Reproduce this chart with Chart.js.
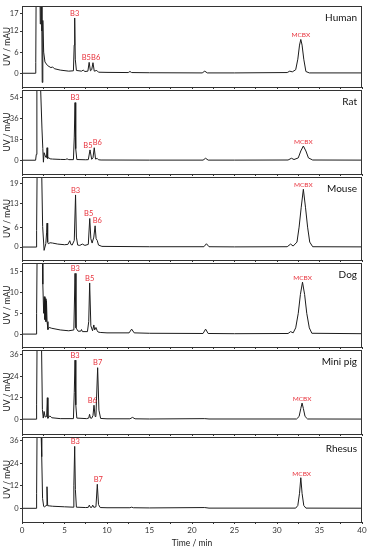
<!DOCTYPE html>
<html>
<head>
<meta charset="utf-8">
<script src="https://cdn.jsdelivr.net/npm/chart.js@4.4.0/dist/chart.umd.min.js"></script>
<style>
    html, body { margin: 0; padding: 0; background: #fff; }
    #wrap { position: relative; width: 369px; height: 550px; overflow: hidden; }
    #wrap canvas { position: absolute; left: 0; }
</style>
</head>
<body>
<div id="wrap"></div>
<script>
// chromatogram traces, [time (min), UV (mAU)]
const species = ['Human', 'Rat', 'Mouse', 'Dog', 'Mini pig', 'Rhesus'];

const human = [[0,0],[1.55,0],[1.62,3],[1.7,40],[2.05,40],[2.15,14],[2.22,40],[2.3,40],[2.34,12],[2.38,-2.6],[2.45,15],[2.55,6],[2.7,3.2],[3.0,2.2],[3.4,1.6],[3.6,1.8],[3.8,1.3],[4.5,0.9],[5.5,0.6],[6.05,0.7],[6.14,8],[6.2,15.7],[6.27,4],[6.4,0.8],[7.0,0.6],[7.2,0.9],[7.4,0.5],[7.75,0.6],[7.9,3.1],[8.05,0.7],[8.2,1.0],[8.35,3.0],[8.5,0.6],[8.8,0.8],[9.0,0.3],[10,0.25],[12.5,0.2],[12.7,0.5],[12.9,0.2],[15,0.15],[21.2,0.1],[21.5,0.6],[21.8,0.1],[25,0.1],[31.2,0.2],[31.5,0.6],[31.8,0.4],[32.2,1.0],[32.45,4],[32.65,8],[32.8,9.6],[32.95,8],[33.15,4],[33.4,0.5],[33.8,0.1],[40,0.1]];
const rat = [[0,0],[1.6,0],[1.68,5],[1.75,80],[2.15,80],[2.2,60],[2.35,27],[2.45,10],[2.52,-1.7],[2.6,6.5],[2.7,6.5],[2.8,2.5],[2.88,2.3],[2.95,10.8],[3.02,1.5],[3.15,2.2],[3.3,1.2],[3.6,1.0],[4.5,0.7],[5.1,0.6],[5.3,1.2],[5.5,0.5],[6.05,0.5],[6.15,20],[6.24,49.8],[6.32,10],[6.45,0.6],[7.5,0.4],[7.8,0.5],[8.0,8.9],[8.2,0.8],[8.35,2],[8.5,10.8],[8.65,1],[8.85,1.6],[9.0,0.4],[9.3,0.2],[15,0.1],[21.3,0.1],[21.6,1.7],[21.9,0.1],[25,0.1],[31.3,0.2],[31.7,1.7],[32.0,0.6],[32.5,2],[32.8,8],[33.1,12.3],[33.4,8],[33.7,2],[34.2,0.2],[40,0.1]];
const mouse = [[0,0],[1.65,0],[1.72,5],[1.8,30],[2.2,30],[2.3,25],[2.43,6.2],[2.6,-1],[2.8,1.0],[2.9,4.5],[2.95,7.2],[3.02,1.5],[3.1,1.0],[3.3,1.3],[3.6,1.2],[4.2,0.9],[5.0,0.7],[5.4,0.8],[5.62,1.9],[5.75,0.8],[5.9,0.6],[6.15,2],[6.3,15.7],[6.4,3],[6.55,0.6],[6.8,0.5],[7.1,0.9],[7.4,0.5],[7.8,0.8],[7.97,8.6],[8.1,2.5],[8.25,1.2],[8.45,3],[8.6,6.4],[8.72,2.5],[8.85,2.0],[9.0,0.6],[9.4,0.2],[15,0.1],[21.4,0.1],[21.7,1.0],[22.0,0.1],[25,0.05],[31.2,0.1],[31.6,0.9],[31.9,0.3],[32.35,1.5],[32.6,6],[32.85,12],[33.1,17.4],[33.35,12],[33.6,6],[33.85,1.5],[34.2,0.1],[40,0.05]];
const dog = [[0,0],[1.65,0],[1.72,5],[1.8,25],[2.3,25],[2.4,20],[2.45,12],[2.55,5],[2.62,9],[2.7,3.5],[2.76,8.5],[2.82,3],[2.88,8],[2.95,3],[3.05,1.1],[3.2,1.6],[3.5,1.4],[4.5,1.0],[5.5,0.8],[6.1,1],[6.24,14.6],[6.35,1.5],[6.6,0.7],[6.9,0.7],[7.0,1.1],[7.1,0.6],[7.7,0.6],[7.85,3],[7.96,12.3],[8.1,2],[8.3,0.8],[8.45,2.2],[8.55,1.0],[8.7,1.6],[8.85,0.8],[8.95,0.5],[9.2,0.4],[10,0.3],[12.6,0.3],[12.9,1.2],[13.2,0.3],[15,0.2],[21.3,0.15],[21.6,1.2],[21.9,0.15],[25,0.1],[31.3,0.15],[31.6,0.6],[31.9,0.3],[32.2,1.5],[32.5,5],[32.75,9.5],[33.0,12.5],[33.25,9.5],[33.5,5],[33.8,1.5],[34.1,0.2],[40,0.1]];
const miniPig = [[0,0],[1.65,0],[1.72,8],[1.8,60],[2.2,60],[2.3,40],[2.4,5.4],[2.5,0.6],[2.6,4.3],[2.72,1.2],[2.9,1.5],[2.98,12],[3.05,0.5],[3.2,1.5],[3.3,1.8],[3.5,0.8],[4.5,0.3],[6.05,0.3],[6.15,15],[6.24,33],[6.33,8],[6.45,0.6],[7.6,0.3],[7.85,0.6],[7.95,2.7],[8.05,0.6],[8.2,0.5],[8.35,2],[8.47,7.8],[8.6,1.5],[8.7,2],[8.9,28.8],[9.05,5],[9.25,0.4],[10,0.2],[12.7,0.2],[13.0,1.0],[13.3,0.2],[15,0.1],[21.5,0.3],[22,0.1],[32.3,0.1],[32.6,1.5],[32.8,6],[32.95,9.0],[33.1,6],[33.3,1.5],[33.6,0.1],[40,0.05]];
const rhesus = [[0,0],[1.65,0],[1.72,8],[1.8,60],[2.15,60],[2.25,40],[2.32,27.5],[2.42,5.3],[2.55,1],[2.65,0.8],[2.85,1.5],[2.94,11.5],[3.02,1.4],[3.2,1.3],[3.6,1.1],[5,0.8],[6.0,0.6],[6.1,12],[6.2,33],[6.28,10],[6.4,0.6],[7.5,0.4],[7.8,0.5],[7.92,1.7],[8.05,0.5],[8.2,0.5],[8.32,1.7],[8.45,0.5],[8.7,0.8],[8.86,12.8],[9.0,2],[9.2,0.4],[10,0.3],[12.7,0.3],[12.9,0.6],[13.1,0.3],[15,0.2],[21.5,0.4],[22,0.1],[32.2,0.1],[32.45,1.5],[32.65,8],[32.8,16.3],[32.95,8],[33.15,1.5],[33.4,0.1],[40,0.05]];

// y tick labels per panel
const humanTicks = [0, 6, 12, 17];
const ratTicks = [0, 18, 36, 54];
const mouseTicks = [0, 6, 13, 19];
const dogTicks = [0, 5, 10, 15];
const miniPigTicks = [0, 12, 24, 36];
const rhesusTicks = [0, 12, 24, 36];
const timeTicks = [0, 2.5, 5, 7.5, 10, 12.5, 15, 17.5, 20, 22.5, 25, 27.5, 30, 32.5, 35, 37.5, 40];

// peak names and where they are written (min)
const humanTags = ['B3', 'B5', 'B6', 'MCBX'];
const humanTagT = [6.2, 7.57, 8.67, 32.8];
const ratTags = ['B3', 'B5', 'B6', 'MCBX'];
const ratTagT = [6.24, 7.76, 8.86, 33.1];
const mouseTags = ['B3', 'B5', 'B6', 'MCBX'];
const mouseTagT = [6.3, 7.84, 8.86, 33.1];
const dogTags = ['B3', 'B5', 'MCBX'];
const dogTagT = [6.27, 7.96, 33.0];
const miniPigTags = ['B3', 'B6', 'B7', 'MCBX'];
const miniPigTagT = [6.24, 8.27, 8.9, 32.95];
const rhesusTags = ['B3', 'B7', 'MCBX'];
const rhesusTagT = [6.27, 8.98, 32.9];

const FONT = 'Lato, "Open Sans", sans-serif';

const panels = [
    { trace: human,   ticks: humanTicks,   tags: humanTags,   tagT: humanTagT,   yMin: -3.9, yMax: 19.1, top: 2,   bottom: 90 },
    { trace: rat,     ticks: ratTicks,     tags: ratTags,     tagT: ratTagT,     yMin: -11.9, yMax: 60.7, top: 90,  bottom: 177 },
    { trace: mouse,   ticks: mouseTicks,   tags: mouseTags,   tagT: mouseTagT,   yMin: -3.9, yMax: 21.1, top: 177, bottom: 263 },
    { trace: dog,     ticks: dogTicks,     tags: dogTags,     tagT: dogTagT,     yMin: -3.1, yMax: 17.1, top: 263, bottom: 350 },
    { trace: miniPig, ticks: miniPigTicks, tags: miniPigTags, tagT: miniPigTagT, yMin: -8.3, yMax: 38.7, top: 350, bottom: 437 },
    { trace: rhesus,  ticks: rhesusTicks,  tags: rhesusTags,  tagT: rhesusTagT,  yMin: -7.3, yMax: 38.0, top: 437, bottom: 522 }
];

function panelPlugin(p, name) {
    return {
        id: 'panelDeco',
        afterDatasetsDraw(chart) {
            const { ctx, chartArea: a, scales } = chart;
            ctx.save();
            // frame
            ctx.strokeStyle = '#333';
            ctx.lineWidth = 1;
            ctx.strokeRect(a.left + 0.5, a.top + 0.5, a.right - a.left - 1, a.bottom - a.top);

            // species name
            ctx.fillStyle = '#111';
            ctx.font = '10px ' + FONT;
            ctx.textAlign = 'right';
            ctx.textBaseline = 'middle';
            ctx.fillText(name, a.right - 5, a.top + 12);

            // peak names in red, just above the peak
            ctx.fillStyle = '#e8323c';
            ctx.textAlign = 'center';
            ctx.textBaseline = 'bottom';
            p.tags.forEach((tag, k) => {
                const t = p.tagT[k];
                let top = -Infinity;
                p.trace.forEach(pt => {
                    if (Math.abs(pt[0] - t) <= 0.4 && pt[1] > top) top = pt[1];
                });
                ctx.font = (tag === 'MCBX' ? '6.5px ' : '7.5px ') + FONT;
                const x = scales.x.getPixelForValue(t);
                const y = scales.y.getPixelForValue(top) - 1;
                ctx.fillText(tag, x, y);
            });
            ctx.restore();
        }
    };
}

const wrap = document.getElementById('wrap');

panels.forEach((p, i) => {
    const last = i === panels.length - 1;
    const padTop = i === 0 ? 2 : 6;
    const xAxisH = last ? 28 : 3;
    const canvas = document.createElement('canvas');
    canvas.width = 369;
    canvas.height = padTop + (p.bottom - p.top) + xAxisH;
    canvas.style.top = (p.top - padTop) + 'px';
    wrap.appendChild(canvas);

    new Chart(canvas, {
        type: 'line',
        data: {
            datasets: [{
                data: p.trace.map(pt => ({ x: pt[0], y: pt[1] })),
                borderColor: '#1c1c1c',
                borderWidth: 1,
                pointRadius: 0,
                tension: 0
            }]
        },
        options: {
            responsive: false,
            animation: false,
            devicePixelRatio: 1,
            layout: { padding: { top: padTop, right: 7, left: 0, bottom: 0 } },
            plugins: {
                legend: { display: false },
                tooltip: { enabled: false }
            },
            scales: {
                x: {
                    type: 'linear',
                    min: 0,
                    max: 40,
                    afterBuildTicks: s => { s.ticks = timeTicks.map(v => ({ value: v })); },
                    afterFit: s => { s.height = xAxisH; },
                    grid: { drawOnChartArea: false, tickLength: 2, color: '#333' },
                    border: { display: false },
                    ticks: {
                        autoSkip: false,
                        maxRotation: 0,
                        padding: 1.5,
                        color: '#333',
                        font: { family: FONT, size: 8 },
                        callback: v => (last && v % 5 === 0) ? v : ''
                    },
                    title: {
                        display: last,
                        text: 'Time / min',
                        color: '#222',
                        font: { family: FONT, size: 8.5 },
                        padding: { top: 0, bottom: 2 }
                    }
                },
                y: {
                    min: p.yMin,
                    max: p.yMax,
                    afterBuildTicks: s => { s.ticks = p.ticks.map(v => ({ value: v })); },
                    afterFit: s => { s.width = 22; },
                    grid: { drawOnChartArea: false, tickLength: 2, color: '#333' },
                    border: { display: false },
                    ticks: {
                        padding: 1.5,
                        color: '#333',
                        font: { family: FONT, size: 7.5 }
                    },
                    title: {
                        display: true,
                        text: 'UV / mAU',
                        color: '#222',
                        font: { family: FONT, size: 8.5 },
                        padding: { top: 2, bottom: 0 }
                    }
                }
            }
        },
        plugins: [panelPlugin(p, species[i])]
    });
});
</script>
</body>
</html>
